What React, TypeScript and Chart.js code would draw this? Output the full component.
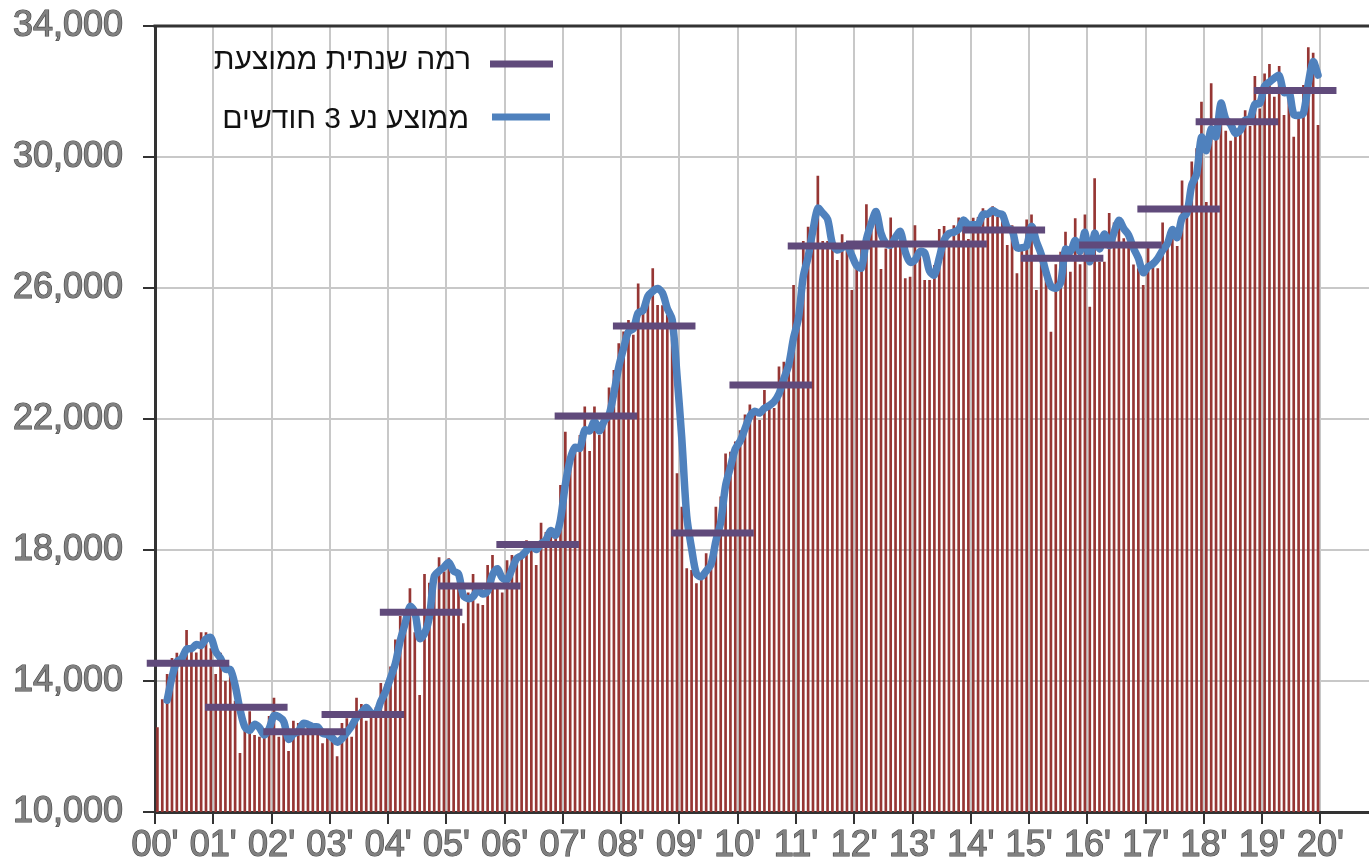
import React, { useEffect, useRef } from "react";
import { Chart, registerables } from "chart.js";

Chart.register(...registerables);

// x-axis year labels (one per January, 2000..2020)
const yearLabels = [
  "00'", "01'", "02'", "03'", "04'", "05'", "06'", "07'", "08'", "09'", "10'",
  "11'", "12'", "13'", "14'", "15'", "16'", "17'", "18'", "19'", "20'",
];

// y-axis tick values
const yTickValues = [10000, 14000, 18000, 22000, 26000, 30000, 34000];

// monthly values, one row per year (Jan..Dec), 2000..2019
const monthlyValues: number[][] = [
  [12590, 13440, 14210, 14700, 14860, 14500, 15560, 14900, 14870, 15490, 15490, 15000],
  [14210, 14860, 14000, 14200, 13400, 11800, 12600, 13080, 12350, 12300, 12400, 12930],
  [13490, 12300, 12500, 11860, 12790, 12720, 12600, 12700, 12500, 12600, 12100, 12400],
  [12300, 11700, 12720, 12860, 12300, 13490, 13300, 12790, 13000, 13200, 13940, 13900],
  [14440, 15270, 15985, 16000, 16830, 15490, 13570, 17270, 17000, 17300, 17780, 17340],
  [17745, 16983, 17084, 15760, 16700, 17270, 16370, 16320, 17540, 17850, 16900, 16700],
  [17690, 17850, 17690, 17950, 18300, 18200, 17540, 18830, 18550, 18400, 18400, 19985],
  [21610, 20700, 21100, 21510, 22380, 21020, 22380, 21510, 21920, 22960, 23500, 24310],
  [24670, 25020, 24570, 26140, 25230, 25870, 26600, 25480, 25470, 25175, 24460, 20340],
  [19320, 17440, 17390, 16985, 17185, 17900, 17600, 19320, 19630, 20950, 21000, 21310],
  [21660, 22140, 22440, 22130, 21970, 22885, 22376, 22336, 23600, 23750, 23600, 26090],
  [25540, 27435, 27870, 28000, 29430, 27435, 27435, 27190, 26855, 27640, 27400, 25940],
  [26700, 27210, 28555, 28147, 28300, 26580, 27210, 28150, 27300, 27720, 26300, 26345],
  [27920, 27065, 26245, 26245, 26700, 27800, 27895, 27300, 27920, 28150, 28150, 27500],
  [28147, 28170, 28432, 28170, 28500, 28170, 28070, 27313, 27920, 26450, 27313, 28090],
  [28243, 25940, 26900, 26600, 24667, 26723, 27110, 27720, 26500, 28127, 26723, 28243],
  [25430, 29350, 26800, 26800, 28290, 28000, 27920, 27520, 27410, 26720, 26600, 26090],
  [27262, 26855, 26600, 28000, 27466, 27872, 27282, 29280, 28294, 29860, 30270, 31690],
  [28630, 32250, 30977, 31700, 30800, 30500, 30875, 31080, 31430, 30947, 32470, 31480],
  [32550, 32840, 31840, 32780, 31280, 32000, 30620, 31200, 32200, 33350, 33180, 30980],
];

// average annual level, 2000..2019 (as drawn)
const annualAverages = [
  14540, 13200, 12450, 12980, 16100, 16900, 18170, 22090, 24840, 18520,
  23040, 27280, 27340, 27340, 27770, 26910, 27310, 28410, 31075, 32030,
];

// legend texts
const legendAnnual = "רמה שנתית ממוצעת";
const legendMoving = "ממוצע נע 3 חודשים";

const BAR_COLOR = "#963634";
const MA_COLOR = "#4F81BD";
const ANNUAL_COLOR = "#604A7B";
const AXIS_COLOR = "#333333";
const GRID_COLOR = "#c8c8c8";
const FONT = '"Liberation Sans", Arial, sans-serif';

export default function App() {
  const ref = useRef<HTMLCanvasElement>(null);

  useEffect(() => {
    const canvas = ref.current;
    if (!canvas) return;

    const monthly = monthlyValues.flat();
    const barData = monthly.map((v, i) => ({ x: i + 0.5, y: v }));
    // 3-month trailing moving average of the monthly series
    const maData: { x: number; y: number }[] = [];
    for (let i = 2; i < monthly.length; i++) {
      maData.push({ x: i + 0.5, y: (monthly[i - 2] + monthly[i - 1] + monthly[i]) / 3 });
    }
    const annualData: { x: number; y: number | null }[] = [];
    annualAverages.forEach((v, k) => {
      annualData.push({ x: k * 12 - 1.7, y: v });
      annualData.push({ x: k * 12 + 15.3, y: v });
      annualData.push({ x: k * 12 + 15.3, y: null });
    });

    const frame = {
      id: "frameAndLegend",
      beforeDatasetsDraw(chart: any) {
        const { ctx, chartArea } = chart;
        ctx.save();
        ctx.strokeStyle = AXIS_COLOR;
        ctx.lineWidth = 3;
        ctx.beginPath();
        ctx.moveTo(chartArea.left - 1.5, chartArea.top);
        ctx.lineTo(chartArea.right, chartArea.top);
        ctx.stroke();
        ctx.restore();
      },
      afterDraw(chart: any) {
        const { ctx, chartArea } = chart;
        const L = chartArea.left;
        const T = chartArea.top;
        ctx.save();
        ctx.font = `30px ${FONT}`;
        ctx.fillStyle = "#111111";
        ctx.textBaseline = "middle";
        ctx.direction = "rtl";
        ctx.textAlign = "right";
        ctx.fillText(legendAnnual, L + 316, T + 35);
        ctx.fillText(legendMoving, L + 314, T + 94);
        ctx.lineWidth = 7;
        ctx.lineCap = "butt";
        ctx.strokeStyle = ANNUAL_COLOR;
        ctx.beginPath();
        ctx.moveTo(L + 335, T + 38);
        ctx.lineTo(L + 398, T + 38);
        ctx.stroke();
        ctx.strokeStyle = MA_COLOR;
        ctx.beginPath();
        ctx.moveTo(L + 337, T + 91);
        ctx.lineTo(L + 395, T + 91);
        ctx.stroke();
        ctx.restore();
      },
    };

    const xTickFont = { family: FONT, size: 36 };
    const yTickFont = { family: FONT, size: 36, lineHeight: 0.334 };

    const chart = new Chart(canvas, {
      type: "bar",
      data: {
        datasets: [
          {
            type: "line",
            label: legendAnnual,
            data: annualData as any,
            borderColor: ANNUAL_COLOR,
            borderWidth: 7,
            borderCapStyle: "butt",
            pointRadius: 0,
            spanGaps: false,
            clip: false as any,
            order: 0,
          },
          {
            type: "line",
            label: legendMoving,
            data: maData as any,
            borderColor: MA_COLOR,
            borderWidth: 7.5,
            borderJoinStyle: "round",
            borderCapStyle: "round",
            pointRadius: 0,
            tension: 0.3,
            order: 1,
          },
          {
            type: "bar",
            label: "monthly",
            data: barData as any,
            backgroundColor: BAR_COLOR,
            borderWidth: 0,
            categoryPercentage: 1,
            barPercentage: 0.55,
            order: 2,
          },
        ],
      },
      options: {
        responsive: false,
        animation: false,
        devicePixelRatio: 1,
        layout: { padding: { top: 10, left: 0, right: 0, bottom: 0 } },
        plugins: {
          legend: { display: false },
          tooltip: { enabled: false },
          title: { display: false },
        },
        scales: {
          x: {
            type: "linear",
            min: 0,
            max: 250,
            offset: false,
            afterBuildTicks: (s: any) => {
              s.ticks = yearLabels.map((_, k) => ({ value: k * 12 }));
            },
            afterFit: (s: any) => {
              s.height = 56;
            },
            ticks: {
              autoSkip: false,
              maxRotation: 0,
              padding: 0,
              font: xTickFont,
              color: "#808080",
              textStrokeColor: "#444444",
              textStrokeWidth: 1.2,
              callback: (v: any) => yearLabels[Math.round(Number(v) / 12)] ?? "",
            } as any,
            grid: {
              offset: false,
              color: GRID_COLOR,
              lineWidth: 2,
              tickLength: 12,
              tickColor: AXIS_COLOR,
              tickWidth: 2,
            },
            border: { color: AXIS_COLOR, width: 3 },
          },
          y: {
            type: "linear",
            min: 10000,
            max: 34000,
            afterBuildTicks: (s: any) => {
              s.ticks = yTickValues.map((v) => ({ value: v }));
            },
            afterFit: (s: any) => {
              s.width = 155;
            },
            ticks: {
              padding: 20,
              font: yTickFont,
              color: "#808080",
              textStrokeColor: "#444444",
              textStrokeWidth: 1.2,
              callback: (v: any) => Number(v).toLocaleString("en-US"),
            } as any,
            grid: {
              color: GRID_COLOR,
              lineWidth: 2,
              tickLength: 12,
              tickColor: AXIS_COLOR,
              tickWidth: 2,
            },
            border: { color: AXIS_COLOR, width: 3 },
          },
        },
      },
      plugins: [frame],
    });

    return () => chart.destroy();
  }, []);

  return (
    <div
      style={{
        position: "absolute",
        left: 0,
        top: 0,
        width: 1369,
        height: 868,
        overflow: "hidden",
        background: "#ffffff",
      }}
    >
      <canvas ref={ref} width={1369} height={868} style={{ display: "block" }} />
    </div>
  );
}
